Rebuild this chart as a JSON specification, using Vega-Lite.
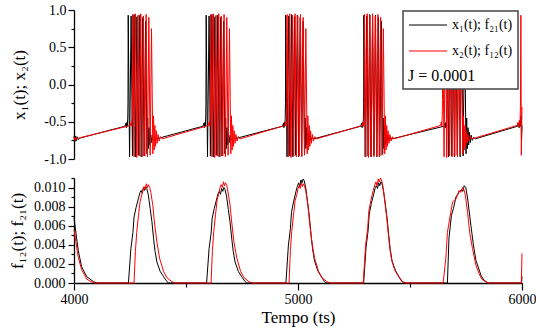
{
"$schema": "https://vega.github.io/schema/vega-lite/v6.json",
"padding": {"left": 8, "top": 3, "right": 0, "bottom": 2},
"background": "white",
"spacing": 19,
"bounds": "flush",
"resolve": {"scale": {"color": "independent"}},
"datasets": {
"xa": [{"t":4000,"v":-0.69},{"t":4003,"v":-0.77},{"t":4006,"v":-0.69},{"t":4009,"v":-0.76},{"t":4013,"v":-0.7},{"t":4018,"v":-0.74},{"t":4025,"v":-0.72},
{"t":4228,"v":-0.56},{"t":4232,"v":-0.52},{"t":4234,"v":-0.58},{"t":4236,"v":-0.51},{"t":4238,"v":-0.56},{"t":4240,"v":-0.45},{"t":4241,"v":-0.25},
{"t":4242,"v":0.93},{"t":4248,"v":-0.97},{"t":4255,"v":0.92},{"t":4261,"v":-0.96},{"t":4268,"v":0.94},{"t":4274,"v":-0.97},{"t":4281,"v":0.91},{"t":4287,"v":-0.95},{"t":4294,"v":0.93},{"t":4300,"v":-0.97},{"t":4307,"v":0.9},{"t":4313,"v":-0.96},{"t":4320,"v":0.85},{"t":4326,"v":-0.93},
{"t":4329,"v":-0.45},{"t":4332,"v":-0.86},{"t":4335,"v":-0.58},{"t":4338,"v":-0.81},{"t":4341,"v":-0.64},{"t":4345,"v":-0.78},{"t":4349,"v":-0.68},{"t":4354,"v":-0.75},{"t":4360,"v":-0.71},{"t":4367,"v":-0.73},
{"t":4576,"v":-0.56},{"t":4580,"v":-0.52},{"t":4582,"v":-0.58},{"t":4584,"v":-0.51},{"t":4586,"v":-0.56},{"t":4588,"v":-0.45},{"t":4589,"v":-0.25},
{"t":4590,"v":0.93},{"t":4596,"v":-0.97},{"t":4603,"v":0.92},{"t":4609,"v":-0.96},{"t":4616,"v":0.94},{"t":4622,"v":-0.97},{"t":4629,"v":0.91},{"t":4635,"v":-0.95},{"t":4642,"v":0.93},{"t":4648,"v":-0.97},{"t":4655,"v":0.9},{"t":4661,"v":-0.96},{"t":4668,"v":0.85},{"t":4674,"v":-0.93},
{"t":4677,"v":-0.45},{"t":4680,"v":-0.86},{"t":4683,"v":-0.58},{"t":4686,"v":-0.81},{"t":4689,"v":-0.64},{"t":4693,"v":-0.78},{"t":4697,"v":-0.68},{"t":4702,"v":-0.75},{"t":4708,"v":-0.71},{"t":4715,"v":-0.73},
{"t":4931,"v":-0.56},{"t":4935,"v":-0.52},{"t":4937,"v":-0.58},{"t":4939,"v":-0.51},{"t":4941,"v":-0.56},{"t":4943,"v":-0.45},{"t":4944,"v":-0.25},
{"t":4945,"v":0.93},{"t":4951,"v":-0.97},{"t":4958,"v":0.92},{"t":4964,"v":-0.96},{"t":4971,"v":0.94},{"t":4977,"v":-0.97},{"t":4984,"v":0.91},{"t":4990,"v":-0.95},{"t":4997,"v":0.93},{"t":5003,"v":-0.97},{"t":5010,"v":0.9},{"t":5016,"v":-0.96},{"t":5023,"v":0.85},{"t":5029,"v":-0.93},
{"t":5032,"v":-0.45},{"t":5035,"v":-0.86},{"t":5038,"v":-0.58},{"t":5041,"v":-0.81},{"t":5044,"v":-0.64},{"t":5048,"v":-0.78},{"t":5052,"v":-0.68},{"t":5057,"v":-0.75},{"t":5063,"v":-0.71},{"t":5070,"v":-0.73},
{"t":5280,"v":-0.56},{"t":5284,"v":-0.52},{"t":5286,"v":-0.58},{"t":5288,"v":-0.51},{"t":5290,"v":-0.56},{"t":5292,"v":-0.45},{"t":5293,"v":-0.25},
{"t":5294,"v":0.93},{"t":5300,"v":-0.97},{"t":5307,"v":0.92},{"t":5313,"v":-0.96},{"t":5320,"v":0.94},{"t":5326,"v":-0.97},{"t":5333,"v":0.91},{"t":5339,"v":-0.95},{"t":5346,"v":0.93},{"t":5352,"v":-0.97},{"t":5359,"v":0.9},{"t":5365,"v":-0.96},{"t":5372,"v":0.85},{"t":5378,"v":-0.93},
{"t":5381,"v":-0.45},{"t":5384,"v":-0.86},{"t":5387,"v":-0.58},{"t":5390,"v":-0.81},{"t":5393,"v":-0.64},{"t":5397,"v":-0.78},{"t":5401,"v":-0.68},{"t":5406,"v":-0.75},{"t":5412,"v":-0.71},{"t":5419,"v":-0.73},
{"t":5652,"v":-0.56},{"t":5656,"v":-0.52},{"t":5658,"v":-0.58},{"t":5660,"v":-0.51},{"t":5662,"v":-0.56},{"t":5664,"v":-0.45},{"t":5665,"v":-0.25},
{"t":5666,"v":0.93},{"t":5672,"v":-0.97},{"t":5679,"v":0.92},{"t":5685,"v":-0.96},{"t":5692,"v":0.94},{"t":5698,"v":-0.97},{"t":5705,"v":0.91},{"t":5711,"v":-0.95},{"t":5718,"v":0.93},{"t":5724,"v":-0.97},{"t":5731,"v":0.9},{"t":5737,"v":-0.96},{"t":5744,"v":0.85},{"t":5750,"v":-0.93},
{"t":5753,"v":-0.45},{"t":5756,"v":-0.86},{"t":5759,"v":-0.58},{"t":5762,"v":-0.81},{"t":5765,"v":-0.64},{"t":5769,"v":-0.78},{"t":5773,"v":-0.68},{"t":5778,"v":-0.75},{"t":5784,"v":-0.71},{"t":5791,"v":-0.73},
{"t":5980,"v":-0.56},{"t":5984,"v":-0.52},{"t":5987,"v":-0.58},{"t":5990,"v":-0.5},{"t":5993,"v":-0.56},{"t":5996,"v":-0.42},{"t":5998,"v":-0.75},{"t":6000,"v":-0.55}],
"xb": [{"t":4000,"v":-0.71},{"t":4004,"v":-0.75},{"t":4008,"v":-0.71},{"t":4013,"v":-0.73},{"t":4020,"v":-0.72},
{"t":4252,"v":-0.55},{"t":4256,"v":-0.5},{"t":4258,"v":-0.56},{"t":4260,"v":-0.42},{"t":4261,"v":-0.2},
{"t":4262,"v":0.94},{"t":4268,"v":-0.97},{"t":4274,"v":0.95},{"t":4280,"v":-0.98},{"t":4286,"v":0.93},{"t":4292,"v":-0.96},{"t":4298,"v":0.95},{"t":4304,"v":-0.97},{"t":4310,"v":0.92},{"t":4316,"v":-0.96},{"t":4322,"v":0.94},{"t":4328,"v":-0.97},{"t":4334,"v":0.9},{"t":4340,"v":-0.95},{"t":4346,"v":0.75},{"t":4352,"v":-0.93},
{"t":4355,"v":-0.42},{"t":4358,"v":-0.88},{"t":4361,"v":-0.55},{"t":4364,"v":-0.83},{"t":4367,"v":-0.62},{"t":4371,"v":-0.79},{"t":4375,"v":-0.67},{"t":4380,"v":-0.76},{"t":4386,"v":-0.7},{"t":4393,"v":-0.73},
{"t":4600,"v":-0.55},{"t":4604,"v":-0.5},{"t":4606,"v":-0.56},{"t":4608,"v":-0.42},{"t":4609,"v":-0.2},
{"t":4610,"v":0.94},{"t":4616,"v":-0.97},{"t":4622,"v":0.95},{"t":4628,"v":-0.98},{"t":4634,"v":0.93},{"t":4640,"v":-0.96},{"t":4646,"v":0.95},{"t":4652,"v":-0.97},{"t":4658,"v":0.92},{"t":4664,"v":-0.96},{"t":4670,"v":0.94},{"t":4676,"v":-0.97},{"t":4682,"v":0.9},{"t":4688,"v":-0.95},{"t":4694,"v":0.75},{"t":4700,"v":-0.93},
{"t":4703,"v":-0.42},{"t":4706,"v":-0.88},{"t":4709,"v":-0.55},{"t":4712,"v":-0.83},{"t":4715,"v":-0.62},{"t":4719,"v":-0.79},{"t":4723,"v":-0.67},{"t":4728,"v":-0.76},{"t":4734,"v":-0.7},{"t":4741,"v":-0.73},
{"t":4941,"v":-0.55},{"t":4945,"v":-0.5},{"t":4947,"v":-0.56},{"t":4949,"v":-0.42},{"t":4950,"v":-0.2},
{"t":4951,"v":0.94},{"t":4957,"v":-0.97},{"t":4963,"v":0.95},{"t":4969,"v":-0.98},{"t":4975,"v":0.93},{"t":4981,"v":-0.96},{"t":4987,"v":0.95},{"t":4993,"v":-0.97},{"t":4999,"v":0.92},{"t":5005,"v":-0.96},{"t":5011,"v":0.94},{"t":5017,"v":-0.97},{"t":5023,"v":0.9},{"t":5029,"v":-0.95},{"t":5035,"v":0.75},{"t":5041,"v":-0.93},
{"t":5044,"v":-0.42},{"t":5047,"v":-0.88},{"t":5050,"v":-0.55},{"t":5053,"v":-0.83},{"t":5056,"v":-0.62},{"t":5060,"v":-0.79},{"t":5064,"v":-0.67},{"t":5069,"v":-0.76},{"t":5075,"v":-0.7},{"t":5082,"v":-0.73},
{"t":5287,"v":-0.55},{"t":5291,"v":-0.5},{"t":5293,"v":-0.56},{"t":5295,"v":-0.42},{"t":5296,"v":-0.2},
{"t":5297,"v":0.94},{"t":5303,"v":-0.97},{"t":5309,"v":0.95},{"t":5315,"v":-0.98},{"t":5321,"v":0.93},{"t":5327,"v":-0.96},{"t":5333,"v":0.95},{"t":5339,"v":-0.97},{"t":5345,"v":0.92},{"t":5351,"v":-0.96},{"t":5357,"v":0.94},{"t":5363,"v":-0.97},{"t":5369,"v":0.9},{"t":5375,"v":-0.95},{"t":5381,"v":0.75},{"t":5387,"v":-0.93},
{"t":5390,"v":-0.42},{"t":5393,"v":-0.88},{"t":5396,"v":-0.55},{"t":5399,"v":-0.83},{"t":5402,"v":-0.62},{"t":5406,"v":-0.79},{"t":5410,"v":-0.67},{"t":5415,"v":-0.76},{"t":5421,"v":-0.7},{"t":5428,"v":-0.73},
{"t":5636,"v":-0.55},{"t":5640,"v":-0.5},{"t":5642,"v":-0.56},{"t":5644,"v":-0.42},{"t":5645,"v":-0.2},
{"t":5646,"v":0.94},{"t":5652,"v":-0.97},{"t":5658,"v":0.95},{"t":5664,"v":-0.98},{"t":5670,"v":0.93},{"t":5676,"v":-0.96},{"t":5682,"v":0.95},{"t":5688,"v":-0.97},{"t":5694,"v":0.92},{"t":5700,"v":-0.96},{"t":5706,"v":0.94},{"t":5712,"v":-0.97},{"t":5718,"v":0.9},{"t":5724,"v":-0.95},{"t":5730,"v":0.75},{"t":5736,"v":-0.93},
{"t":5739,"v":-0.42},{"t":5742,"v":-0.88},{"t":5745,"v":-0.55},{"t":5748,"v":-0.83},{"t":5751,"v":-0.62},{"t":5755,"v":-0.79},{"t":5759,"v":-0.67},{"t":5764,"v":-0.76},{"t":5770,"v":-0.7},{"t":5777,"v":-0.73},
{"t":5978,"v":-0.55},{"t":5982,"v":-0.51},{"t":5985,"v":-0.57},{"t":5988,"v":-0.48},{"t":5991,"v":-0.55},{"t":5993,"v":-0.3},{"t":5995,"v":0.93},{"t":5997,"v":-0.95},{"t":6000,"v":-0.3}],
"fa": [{"t":4000,"v":0.0068},{"t":4019,"v":0.0034},{"t":4034,"v":0.0017},{"t":4057,"v":0.00066},{"t":4087,"v":0.00014},{"t":4105,"v":0},
{"t":4243,"v":0},{"t":4254,"v":0.0036},{"t":4263,"v":0.0053},{"t":4268,"v":0.0069},{"t":4277,"v":0.0079},{"t":4288,"v":0.0089},{"t":4295,"v":0.0095},{"t":4300,"v":0.0097},{"t":4305,"v":0.0094},{"t":4310,"v":0.01},{"t":4315,"v":0.0097},{"t":4320,"v":0.0101},{"t":4325,"v":0.0099},{"t":4332,"v":0.0092},{"t":4340,"v":0.0078},{"t":4348,"v":0.0064},{"t":4355,"v":0.0047},{"t":4362,"v":0.0033},{"t":4370,"v":0.0022},{"t":4385,"v":0.0012},{"t":4400,"v":0.00066},{"t":4415,"v":0.00015},{"t":4422,"v":0},
{"t":4592,"v":0},{"t":4603,"v":0.0036},{"t":4612,"v":0.0052},{"t":4617,"v":0.0068},{"t":4626,"v":0.0078},{"t":4637,"v":0.0088},{"t":4644,"v":0.0094},{"t":4649,"v":0.0096},{"t":4654,"v":0.0093},{"t":4659,"v":0.0099},{"t":4664,"v":0.0096},{"t":4669,"v":0.01},{"t":4674,"v":0.0098},{"t":4681,"v":0.0091},{"t":4689,"v":0.0077},{"t":4697,"v":0.0063},{"t":4704,"v":0.0047},{"t":4711,"v":0.0033},{"t":4719,"v":0.0022},{"t":4734,"v":0.0012},{"t":4749,"v":0.00065},{"t":4764,"v":0.00015},{"t":4771,"v":0},
{"t":4946,"v":0},{"t":4957,"v":0.0039},{"t":4966,"v":0.0057},{"t":4971,"v":0.0074},{"t":4980,"v":0.0085},{"t":4991,"v":0.0096},{"t":4998,"v":0.0102},{"t":5003,"v":0.0105},{"t":5008,"v":0.0101},{"t":5013,"v":0.0108},{"t":5018,"v":0.0105},{"t":5023,"v":0.0109},{"t":5028,"v":0.0107},{"t":5035,"v":0.0099},{"t":5043,"v":0.0084},{"t":5051,"v":0.0069},{"t":5058,"v":0.0051},{"t":5065,"v":0.0036},{"t":5073,"v":0.0024},{"t":5088,"v":0.0013},{"t":5103,"v":0.0007},{"t":5118,"v":0.00016},{"t":5125,"v":0},
{"t":5293,"v":0},{"t":5304,"v":0.0038},{"t":5313,"v":0.0055},{"t":5318,"v":0.0072},{"t":5327,"v":0.0083},{"t":5338,"v":0.0093},{"t":5345,"v":0.01},{"t":5350,"v":0.0102},{"t":5355,"v":0.0099},{"t":5360,"v":0.0105},{"t":5365,"v":0.0102},{"t":5370,"v":0.0106},{"t":5375,"v":0.0104},{"t":5382,"v":0.0096},{"t":5390,"v":0.0082},{"t":5398,"v":0.0067},{"t":5405,"v":0.005},{"t":5412,"v":0.0035},{"t":5420,"v":0.0023},{"t":5435,"v":0.0013},{"t":5450,"v":0.0007},{"t":5465,"v":0.00016},{"t":5480,"v":0},
{"t":5667,"v":0},{"t":5674,"v":0.0047},{"t":5685,"v":0.0071},{"t":5694,"v":0.0078},{"t":5705,"v":0.009},{"t":5719,"v":0.0095},{"t":5731,"v":0.0098},{"t":5736,"v":0.0096},{"t":5742,"v":0.0102},{"t":5749,"v":0.01},{"t":5757,"v":0.0089},{"t":5772,"v":0.006},{"t":5783,"v":0.004},{"t":5794,"v":0.0024},{"t":5817,"v":0.0008},{"t":5830,"v":0.0003},{"t":5848,"v":0},
{"t":5998,"v":0},{"t":6000,"v":0.0007}],
"fb": [{"t":4000,"v":0.0056},{"t":4019,"v":0.0027},{"t":4034,"v":0.0014},{"t":4057,"v":0.0004},{"t":4080,"v":0.0001},{"t":4095,"v":0},
{"t":4268,"v":0},{"t":4274,"v":0.0033},{"t":4280,"v":0.0053},{"t":4288,"v":0.0071},{"t":4295,"v":0.0085},{"t":4303,"v":0.0093},{"t":4308,"v":0.0098},{"t":4313,"v":0.0101},{"t":4318,"v":0.0098},{"t":4323,"v":0.0104},{"t":4328,"v":0.01},{"t":4332,"v":0.0103},{"t":4338,"v":0.01},{"t":4343,"v":0.0095},{"t":4352,"v":0.0081},{"t":4359,"v":0.0064},{"t":4370,"v":0.0043},{"t":4382,"v":0.0026},{"t":4400,"v":0.0012},{"t":4415,"v":0.00055},{"t":4437,"v":0.00014},{"t":4452,"v":0},
{"t":4612,"v":0},{"t":4618,"v":0.0034},{"t":4624,"v":0.0054},{"t":4632,"v":0.0072},{"t":4639,"v":0.0087},{"t":4647,"v":0.0094},{"t":4652,"v":0.01},{"t":4657,"v":0.0103},{"t":4662,"v":0.01},{"t":4667,"v":0.0106},{"t":4672,"v":0.0102},{"t":4676,"v":0.0105},{"t":4682,"v":0.0102},{"t":4687,"v":0.0096},{"t":4696,"v":0.0083},{"t":4703,"v":0.0066},{"t":4714,"v":0.0043},{"t":4726,"v":0.0027},{"t":4744,"v":0.0012},{"t":4759,"v":0.00056},{"t":4781,"v":0.00014},{"t":4796,"v":0},
{"t":4960,"v":0},{"t":4966,"v":0.0034},{"t":4972,"v":0.0054},{"t":4980,"v":0.0071},{"t":4987,"v":0.0086},{"t":4995,"v":0.0093},{"t":5000,"v":0.0099},{"t":5005,"v":0.0102},{"t":5010,"v":0.0099},{"t":5015,"v":0.0105},{"t":5020,"v":0.0101},{"t":5024,"v":0.0104},{"t":5030,"v":0.0101},{"t":5035,"v":0.0096},{"t":5044,"v":0.0082},{"t":5051,"v":0.0065},{"t":5062,"v":0.0043},{"t":5074,"v":0.0026},{"t":5092,"v":0.0012},{"t":5107,"v":0.00056},{"t":5129,"v":0.00014},{"t":5144,"v":0},
{"t":5291,"v":0},{"t":5302,"v":0.004},{"t":5311,"v":0.0057},{"t":5316,"v":0.0075},{"t":5325,"v":0.0086},{"t":5336,"v":0.0097},{"t":5343,"v":0.0103},{"t":5348,"v":0.0106},{"t":5353,"v":0.0102},{"t":5358,"v":0.0109},{"t":5363,"v":0.0106},{"t":5368,"v":0.011},{"t":5373,"v":0.0108},{"t":5380,"v":0.01},{"t":5388,"v":0.0085},{"t":5396,"v":0.0069},{"t":5403,"v":0.0052},{"t":5410,"v":0.0036},{"t":5418,"v":0.0024},{"t":5433,"v":0.0013},{"t":5448,"v":0.0007},{"t":5463,"v":0.00017},{"t":5476,"v":0},
{"t":5648,"v":0},{"t":5660,"v":0.0026},{"t":5667,"v":0.0053},{"t":5682,"v":0.0074},{"t":5690,"v":0.0085},{"t":5705,"v":0.0088},{"t":5712,"v":0.0092},{"t":5719,"v":0.0097},{"t":5727,"v":0.0095},{"t":5735,"v":0.01},{"t":5742,"v":0.0097},{"t":5747,"v":0.0092},{"t":5757,"v":0.0074},{"t":5767,"v":0.0052},{"t":5779,"v":0.0036},{"t":5794,"v":0.0019},{"t":5808,"v":0.001},{"t":5821,"v":0.0004},{"t":5839,"v":0.0001},{"t":5852,"v":0},
{"t":5997,"v":0},{"t":6000,"v":0.0031}]
},
"vconcat": [
{"width": 448, "height": 149,
 "encoding": {
  "x": {"field": "t", "type": "quantitative", "scale": {"domain": [4000, 6000], "nice": false}, "axis": null},
  "y": {"field": "v", "type": "quantitative", "scale": {"domain": [-1, 1], "nice": false},
        "axis": {"values": [-1, -0.75, -0.5, -0.25, 0, 0.25, 0.5, 0.75, 1],
                 "labelExpr": "round(datum.value*4)%2==0 ? replace(format(datum.value,'.1f'),'\u2212','-') : ''",
                 "tickSize": {"condition": {"test": "round(datum.value*4)%2==0", "value": 6}, "value": 3},
                 "labelFont": "Liberation Serif", "titleFont": "Liberation Serif",
                 "labelPadding": 2, "title": "x\u2081(t); x\u2082(t)", "titleX": -55, "titleBaseline": "middle"}}},
 "layer": [
  {"data": {"name": "xa"}, "mark": {"type": "line", "strokeWidth": 1},
   "encoding": {"color": {"datum": "x\u2081(t); f\u2082\u2081(t)",
     "scale": {"domain": ["x\u2081(t); f\u2082\u2081(t)", "x\u2082(t); f\u2081\u2082(t)"], "range": ["#000000", "#ff0000"]},
     "legend": {"orient": "none", "legendX": 329, "legendY": 1, "title": "J = 0.0001", "titleOrient": "bottom", "titleAnchor": "start",
       "titleFont": "Liberation Serif", "titleFontSize": 16, "titleFontWeight": "normal", "titleColor": "#000", "titlePadding": 10,
       "labelFont": "Liberation Serif", "labelFontSize": 14, "labelColor": "#000", "labelOffset": 26, "labelLimit": 200,
       "symbolType": "M-1,0H3.75", "symbolSize": 256, "symbolStrokeWidth": 1.2, "rowPadding": 10, "padding": 5,
       "strokeColor": "#444", "fillColor": "white"}}}},
  {"data": {"name": "xb"}, "mark": {"type": "line", "strokeWidth": 1},
   "encoding": {"color": {"datum": "x\u2082(t); f\u2081\u2082(t)"}}}
 ]},
{"width": 448, "height": 105,
 "encoding": {
  "x": {"field": "t", "type": "quantitative", "scale": {"domain": [4000, 6000], "nice": false},
        "axis": {"values": [4000, 4500, 5000, 5500, 6000],
                 "labelExpr": "datum.value%1000==0 ? format(datum.value,'d') : ''",
                 "tickSize": {"condition": {"test": "datum.value%1000==0", "value": 7}, "value": 4},
                 "labelFont": "Liberation Serif", "titleFont": "Liberation Serif",
                 "labelPadding": 2, "labelFlush": false, "title": "Tempo (ts)", "titlePadding": 3}},
  "y": {"field": "v", "type": "quantitative", "scale": {"domain": [0, 0.011], "nice": false},
        "axis": {"values": [0, 0.001, 0.002, 0.003, 0.004, 0.005, 0.006, 0.007, 0.008, 0.009, 0.01, 0.011],
                 "labelExpr": "round(datum.value*1000)%2==0 ? format(datum.value,'.3f') : ''",
                 "tickSize": {"condition": {"test": "round(datum.value*1000)%2==0", "value": 6}, "value": 3},
                 "labelFont": "Liberation Serif", "titleFont": "Liberation Serif",
                 "labelPadding": 3, "title": "f\u2081\u2082(t); f\u2082\u2081(t)", "titleX": -57, "titleBaseline": "middle"}}},
 "layer": [
  {"data": {"name": "fa"}, "mark": {"type": "line", "strokeWidth": 1},
   "encoding": {"color": {"datum": "x\u2081(t); f\u2082\u2081(t)",
     "scale": {"domain": ["x\u2081(t); f\u2082\u2081(t)", "x\u2082(t); f\u2081\u2082(t)"], "range": ["#000000", "#ff0000"]}, "legend": null}}},
  {"data": {"name": "fb"}, "mark": {"type": "line", "strokeWidth": 1},
   "encoding": {"color": {"datum": "x\u2082(t); f\u2081\u2082(t)", "legend": null}}}
 ]}
],
"config": {
 "view": {"stroke": null},
 "font": "Liberation Serif",
 "legend": {"strokeWidth": 1.5},
 "axis": {"grid": false, "domainColor": "#000", "domainWidth": 1.3, "tickColor": "#000", "tickWidth": 1.2,
          "labelColor": "#000", "labelFont": "Liberation Serif", "labelFontSize": 14,
          "titleFont": "Liberation Serif", "titleFontSize": 17, "titleFontWeight": "normal", "titleColor": "#000"}
}
}
